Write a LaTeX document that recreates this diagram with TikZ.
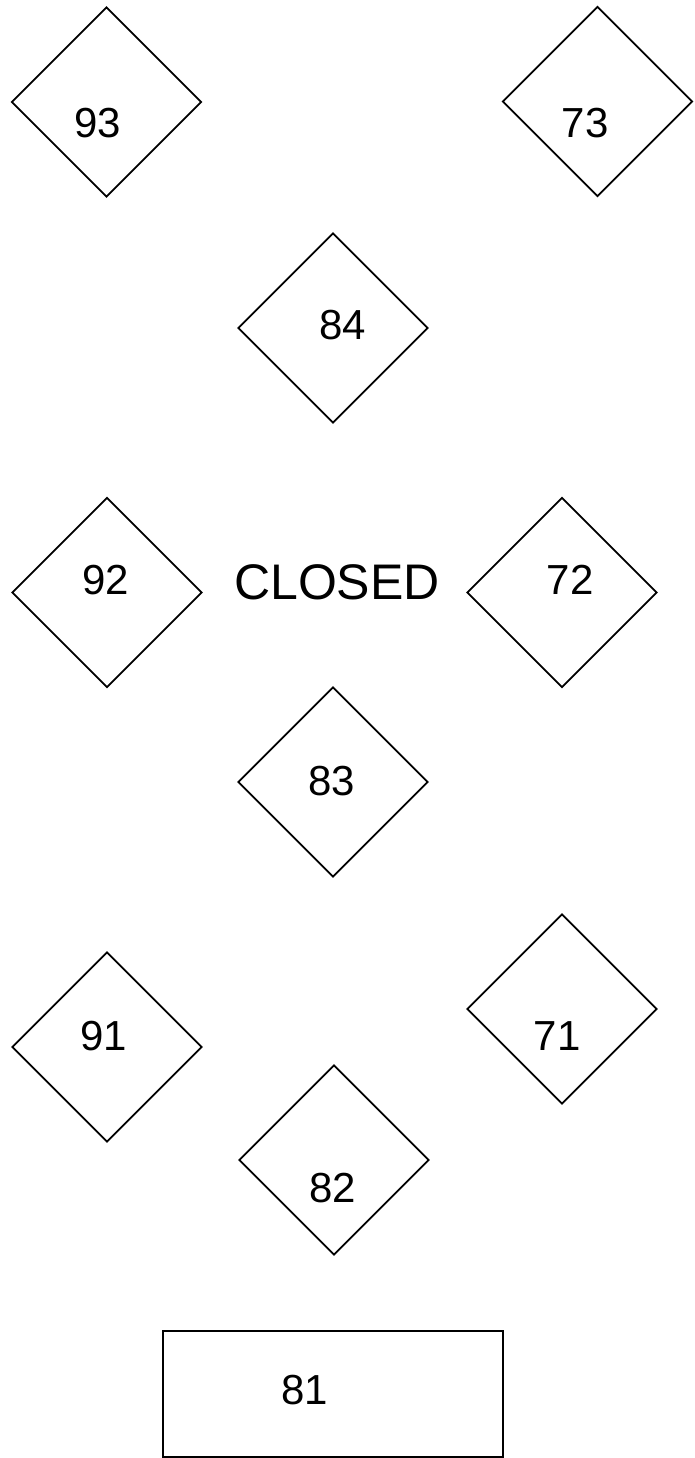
\documentclass[tikz,border=0pt]{standalone}
\usepackage{fontspec}
\setmainfont{Liberation Sans}
\usetikzlibrary{shapes.geometric}
\begin{document}
\begin{tikzpicture}[x=1pt,y=-1pt,
  dia/.style={draw,diamond,line width=1.8pt,minimum width=190pt,minimum height=190pt,inner sep=0pt,aspect=1},
  num/.style={inner sep=0pt,font=\fontsize{42}{50}\selectfont},
  big/.style={inner sep=0pt,font=\fontsize{50}{60}\selectfont},
  box/.style={draw,rectangle,line width=1.8pt,minimum width=340pt,minimum height=126pt,inner sep=0pt}]
\useasboundingbox (0,0) rectangle (694,1458);
% diamonds
\node[dia] (d93) at (106.5,102) {};
\node[dia] (d73) at (597.5,101.5) {};
\node[dia] (d84) at (333,328) {};
\node[dia] (d92) at (107,592.5) {};
\node[dia] (d72) at (562,592.5) {};
\node[dia] (d83) at (333,782) {};
\node[dia] (d91) at (107,1047) {};
\node[dia] (d71) at (562,1009) {};
\node[dia] (d82) at (334,1160) {};
\node[box] (b81) at (333,1394) {};
% labels
\node[num] (t93) at (98,123) {93};
\node[num] (t73) at (585,123) {73};
\node[num] (t84) at (343,325) {84};
\node[num] (t92) at (106,580) {92};
\node[big] (closed) at (337,582.5) {CLOSED};
\node[num] (t72) at (570,580) {72};
\node[num] (t83) at (332,781) {83};
\node[num] (t91) at (104,1036) {91};
\node[num] (t71) at (557,1036) {71};
\node[num] (t82) at (333,1188) {82};
\node[num] (t81) at (305,1390) {81};
\end{tikzpicture}
\end{document}
